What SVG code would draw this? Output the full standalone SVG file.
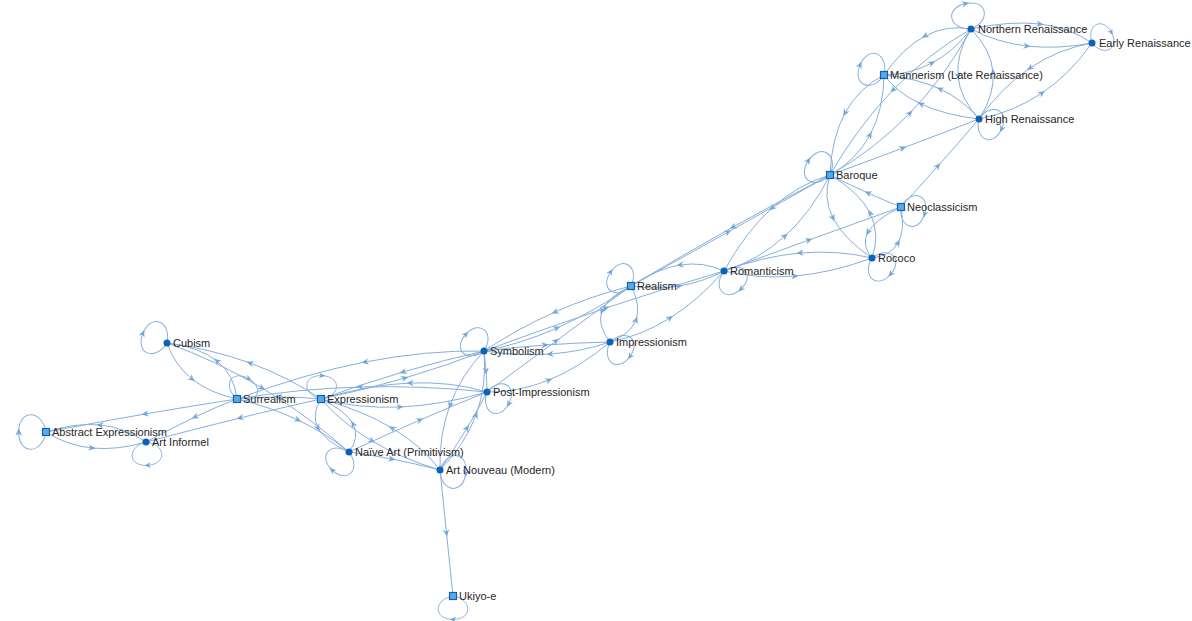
<svg xmlns="http://www.w3.org/2000/svg" width="1192" height="621" viewBox="0 0 1192 621">
<style>
.e{fill:none;stroke:#86afdc;stroke-width:1;marker-mid:url(#ah)}
.lbl{font-family:"Liberation Sans",Arial,sans-serif;font-size:11px;fill:#262626}
.dot{fill:#0a63b5}
.sq{fill:#5aa8e6;stroke:#0a63b5;stroke-width:1.2}
</style>
<defs>
<marker id="ah" viewBox="-5 -5 10 10" markerWidth="9" markerHeight="9" markerUnits="userSpaceOnUse" orient="auto">
<path d="M-4,-3.5 L4,0 L-4,3.5 L-1.5,0 Z" fill="#74a5da"/>
</marker>
<path id="loop" d="M0 0 C-22 -4 -22 -26 0 -26 C22 -26 22 -4 0 0" fill="none" stroke="#86afdc" stroke-width="1" marker-mid="url(#ah)"/>
</defs>
<rect width="1192" height="621" fill="#ffffff"/>
<g id="connectors">
<path class="e" d="M971 29 Q1010 20.5 1040 24 T1092 43"/>
<path class="e" d="M971 29 Q996.75 42.5 1027 46 T1092 43"/>
<path class="e" d="M1092 43 Q1058.25 49 1030 68 T979 119"/>
<path class="e" d="M979 119 Q1013.75 112 1042 93 T1092 43"/>
<path class="e" d="M971 29 Q946.75 24.5 925 36 T884 75"/>
<path class="e" d="M884 75 Q910.25 74.5 932 63 T971 29"/>
<path class="e" d="M884 75 Q858.5 88 845 113 T830 175"/>
<path class="e" d="M830 175 Q856.5 160 870 135 T884 75"/>
<path class="e" d="M979 119 Q944.75 115 921 104 T884 75"/>
<path class="e" d="M979 119 Q963.75 100 940 89 T884 75"/>
<path class="e" d="M971 29 Q956 53.5 958 76 T979 119"/>
<path class="e" d="M979 119 Q995 94.5 993 72 T971 29"/>
<path class="e" d="M830 175 Q874.75 149.5 910 113 T971 29"/>
<path class="e" d="M971 29 Q928.25 53.5 893 90 T830 175"/>
<path class="e" d="M830 175 Q865.75 162 903 148 T979 119"/>
<path class="e" d="M901 207 Q918.5 188 938 166 T979 119"/>
<path class="e" d="M901 207 Q885.75 201 868 193 T830 175"/>
<path class="e" d="M830 175 Q822.5 197.25 833 218 T872 258"/>
<path class="e" d="M872 258 Q880.5 233.75 870 213 T830 175"/>
<path class="e" d="M872 258 Q890.75 255.75 898 243 T901 207"/>
<path class="e" d="M901 207 Q875.25 219.25 868 232 T872 258"/>
<path class="e" d="M724 271 Q764.75 256 809 240 T901 207"/>
<path class="e" d="M872 258 Q837 249.75 800 253 T724 271"/>
<path class="e" d="M724 271 Q758 279.25 795 276 T872 258"/>
<path class="e" d="M830 175 Q798.5 184 772 208 T724 271"/>
<path class="e" d="M724 271 Q758.5 260 785 236 T830 175"/>
<path class="e" d="M631 286 Q678.25 259.75 728 232 T830 175"/>
<path class="e" d="M830 175 Q782.75 199.25 733 227 T631 286"/>
<path class="e" d="M724 271 Q703.25 261.25 680 265 T631 286"/>
<path class="e" d="M631 286 Q655.75 289.75 679 286 T724 271"/>
<path class="e" d="M631 286 Q607.25 297 602 311 T610 342"/>
<path class="e" d="M610 342 Q630.75 334 636 320 T631 286"/>
<path class="e" d="M610 342 Q641.5 335.75 670 318 T724 271"/>
<path class="e" d="M484 351 Q513.5 347.25 545 345 T610 342"/>
<path class="e" d="M610 342 Q581.5 351.75 550 354 T484 351"/>
<path class="e" d="M484 351 Q520.25 344.25 557 328 T631 286"/>
<path class="e" d="M487 392 Q520 367.5 556 341 T631 286"/>
<path class="e" d="M631 286 Q591.75 295.75 555 312 T484 351"/>
<path class="e" d="M484 351 Q546 328 606 308 T724 271"/>
<path class="e" d="M484 351 Q485.25 360.75 486 371 T487 392"/>
<path class="e" d="M487 392 Q518.25 392.5 549 380 T610 342"/>
<path class="e" d="M487 392 Q451.5 381.25 410 383 T321 399"/>
<path class="e" d="M321 399 Q358.5 408.75 400 407 T487 392"/>
<path class="e" d="M484 351 Q426.75 350 365 362 T237 399"/>
<path class="e" d="M484 351 Q443.75 360 403 372 T321 399"/>
<path class="e" d="M321 399 Q364.25 390 405 378 T484 351"/>
<path class="e" d="M487 392 Q422.5 385.25 360 387 T237 399"/>
<path class="e" d="M321 399 Q288.5 377 250 363 T167 343"/>
<path class="e" d="M167 343 Q174.5 365 192 379 T237 399"/>
<path class="e" d="M237 399 Q234.5 375 217 361 T167 343"/>
<path class="e" d="M237 399 Q192.75 405.75 145 414 T46 432"/>
<path class="e" d="M237 399 Q217.75 406.25 195 417 T146 442"/>
<path class="e" d="M321 399 Q283.75 407.25 240 418 T146 442"/>
<path class="e" d="M146 442 Q125 427.5 100 425 T46 432"/>
<path class="e" d="M46 432 Q67 445.5 92 448 T146 442"/>
<path class="e" d="M237 399 Q270 406.75 298 420 T349 452"/>
<path class="e" d="M321 399 Q311 414.75 318 428 T349 452"/>
<path class="e" d="M349 452 Q360 437.25 353 424 T321 399"/>
<path class="e" d="M440 470 Q421.75 445.75 392 428 T321 399"/>
<path class="e" d="M321 399 Q342.25 423.25 372 441 T440 470"/>
<path class="e" d="M349 452 Q369.25 454.5 392 459 T440 470"/>
<path class="e" d="M349 452 Q385.5 435 420 420 T487 392"/>
<path class="e" d="M484 351 Q461 375.25 450 405 T440 470"/>
<path class="e" d="M440 470 Q455.25 447.5 467 428 T487 392"/>
<path class="e" d="M440 470 Q465 444.75 476 415 T484 351"/>
<path class="e" d="M440 470 Q443.25 501.5 446.5 533 T453 596"/>
<path class="e" d="M167 343 Q216.5 360.75 262 388 T349 452"/>
<path class="e" d="M321 399 Q300 397 279 397 T237 399"/>
<use href="#loop" transform="translate(971 29) rotate(-12)"/>
<use href="#loop" transform="translate(1092 43) rotate(61) scale(0.85)"/>
<use href="#loop" transform="translate(884 75) rotate(-67)"/>
<use href="#loop" transform="translate(979 119) rotate(114) scale(0.95)"/>
<use href="#loop" transform="translate(830 175) rotate(-56)"/>
<use href="#loop" transform="translate(901 207) rotate(107) scale(0.95)"/>
<use href="#loop" transform="translate(872 258) rotate(131) scale(0.95)"/>
<use href="#loop" transform="translate(724 271) rotate(137) scale(0.95)"/>
<use href="#loop" transform="translate(631 286) rotate(-55) scale(0.95)"/>
<use href="#loop" transform="translate(610 342) rotate(126) scale(0.95)"/>
<use href="#loop" transform="translate(484 351) rotate(-47) scale(0.95)"/>
<use href="#loop" transform="translate(487 392) rotate(119) scale(0.95)"/>
<use href="#loop" transform="translate(167 343) rotate(-68)"/>
<use href="#loop" transform="translate(237 399) rotate(30) scale(0.9)"/>
<use href="#loop" transform="translate(321 399) rotate(3) scale(0.9)"/>
<use href="#loop" transform="translate(46 432) rotate(-90) scale(1.05)"/>
<use href="#loop" transform="translate(146 442) rotate(176) scale(0.9)"/>
<use href="#loop" transform="translate(349 452) rotate(-137) scale(0.95)"/>
<use href="#loop" transform="translate(440 470) rotate(98)"/>
<use href="#loop" transform="translate(453 596) rotate(180) scale(0.9)"/>
</g>
<g id="node-northern-renaissance"><circle class="dot" cx="971" cy="29" r="3.5"/><text class="lbl" x="978" y="33">Northern Renaissance</text></g>
<g id="node-early-renaissance"><circle class="dot" cx="1092" cy="43" r="3.5"/><text class="lbl" x="1099" y="47">Early Renaissance</text></g>
<g id="node-mannerism"><rect class="sq" x="880.5" y="71.5" width="7" height="7"/><text class="lbl" x="890" y="79">Mannerism (Late Renaissance)</text></g>
<g id="node-high-renaissance"><circle class="dot" cx="979" cy="119" r="3.5"/><text class="lbl" x="985" y="123">High Renaissance</text></g>
<g id="node-baroque"><rect class="sq" x="826.5" y="171.5" width="7" height="7"/><text class="lbl" x="836" y="179">Baroque</text></g>
<g id="node-neoclassicism"><rect class="sq" x="897.5" y="203.5" width="7" height="7"/><text class="lbl" x="907" y="211">Neoclassicism</text></g>
<g id="node-rococo"><circle class="dot" cx="872" cy="258" r="3.5"/><text class="lbl" x="878" y="262">Rococo</text></g>
<g id="node-romanticism"><circle class="dot" cx="724" cy="271" r="3.5"/><text class="lbl" x="730" y="275">Romanticism</text></g>
<g id="node-realism"><rect class="sq" x="627.5" y="282.5" width="7" height="7"/><text class="lbl" x="637" y="290">Realism</text></g>
<g id="node-impressionism"><circle class="dot" cx="610" cy="342" r="3.5"/><text class="lbl" x="616" y="346">Impressionism</text></g>
<g id="node-symbolism"><circle class="dot" cx="484" cy="351" r="3.5"/><text class="lbl" x="490" y="355">Symbolism</text></g>
<g id="node-post-impressionism"><circle class="dot" cx="487" cy="392" r="3.5"/><text class="lbl" x="493" y="396">Post-Impressionism</text></g>
<g id="node-cubism"><circle class="dot" cx="167" cy="343" r="3.5"/><text class="lbl" x="173" y="347">Cubism</text></g>
<g id="node-surrealism"><rect class="sq" x="233.5" y="395.5" width="7" height="7"/><text class="lbl" x="243" y="403">Surrealism</text></g>
<g id="node-expressionism"><rect class="sq" x="317.5" y="395.5" width="7" height="7"/><text class="lbl" x="327" y="403">Expressionism</text></g>
<g id="node-abstract-expressionism"><rect class="sq" x="42.5" y="428.5" width="7" height="7"/><text class="lbl" x="52" y="436">Abstract Expressionism</text></g>
<g id="node-art-informel"><circle class="dot" cx="146" cy="442" r="3.5"/><text class="lbl" x="152" y="446">Art Informel</text></g>
<g id="node-naive-art"><circle class="dot" cx="349" cy="452" r="3.5"/><text class="lbl" x="355" y="456">Naïve Art (Primitivism)</text></g>
<g id="node-art-nouveau"><circle class="dot" cx="440" cy="470" r="3.5"/><text class="lbl" x="446" y="474">Art Nouveau (Modern)</text></g>
<g id="node-ukiyo-e"><rect class="sq" x="449.5" y="592.5" width="7" height="7"/><text class="lbl" x="459" y="600">Ukiyo-e</text></g>
</svg>
